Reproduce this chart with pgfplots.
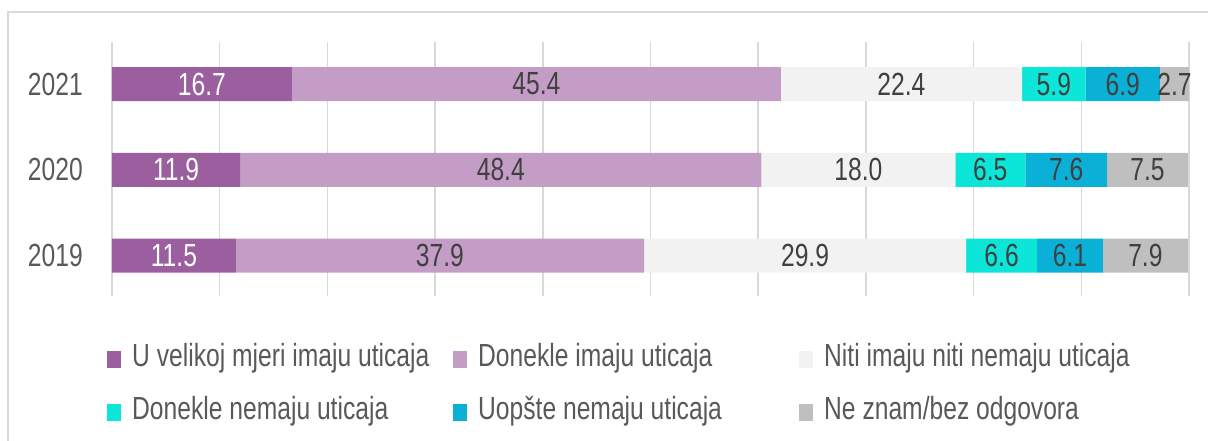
\documentclass[border=0pt]{standalone}
\usepackage{pgfplots}
\pgfplotsset{compat=1.18}
\usepackage{pgfplotstable}
\usepackage{fontspec}
\setmainfont{Liberation Sans}[FakeStretch=0.77]
\definecolor{c1}{HTML}{9B5FA0}
\definecolor{c2}{HTML}{C49DC7}
\definecolor{c3}{HTML}{F2F2F2}
\definecolor{c4}{HTML}{0CE6D8}
\definecolor{c5}{HTML}{0AB0D6}
\definecolor{c6}{HTML}{BFBFBF}
\definecolor{gridc}{HTML}{D9D9D9}
\definecolor{txt}{HTML}{404040}
\definecolor{legtxt}{HTML}{595959}

\pgfplotstableread{
y a b c d e f
0 11.5 37.9 29.9 6.6 6.1 7.9
1 11.9 48.4 18.0 6.5 7.6 7.5
2 16.7 45.4 22.4 5.9 6.9 2.7
}\data

\newcommand{\bigf}{\fontsize{32}{38}\selectfont}

\begin{document}
\bigf
\begin{tikzpicture}
\path[use as bounding box] (0,0) rectangle (1208pt,440pt);
\draw[gridc, line width=1.5pt] (8pt,-20pt) -- (8pt,428pt) -- (1240pt,428pt);
\begin{axis}[
  at={(112pt,144pt)}, anchor=south west,
  scale only axis, width=1077pt, height=254pt,
  xbar stacked, bar width=34pt,
  xmin=0, xmax=100, ymin=-0.47, ymax=2.49,
  xtick={0,10,...,100}, xticklabels={},
  xmajorgrids, grid style={gridc, line width=1.5pt},
  ytick={0,1,2}, yticklabels={2019,2020,2021},
  axis line style={draw=none},
  major tick style={draw=none},
  yticklabel style={inner sep=0pt, xshift=-29pt, text=legtxt, font=\bigf},
  /pgf/number format/fixed, /pgf/number format/fixed zerofill,
  /pgf/number format/precision=1, /pgf/number format/assume math mode=true,
  nodes near coords,
  nodes near coords align={center},
  every node near coord/.append style={anchor=center, text=txt, font=\bigf, inner sep=0pt},
  legend columns=3,
  legend style={at={(axis description cs:-0.00464,-0.183)}, anchor=north west,
    draw=none, fill=none, inner sep=0pt, font=\bigf, text=legtxt,
    nodes={inner sep=0pt, text height=24pt, text depth=8pt},
    row sep=21pt,
    /tikz/every odd column/.append style={column sep=11pt},
    /tikz/every even column/.append style={column sep=21pt}},
  legend image code/.code={\fill[#1,draw=none] (0pt,-9pt) rectangle (14pt,8pt);},
]
\addplot[fill=c1, draw=none, every node near coord/.append style={text=white}] table[x=a,y=y]{\data};
\addplot[fill=c2, draw=none] table[x=b,y=y]{\data};
\addplot[fill=c3, draw=none] table[x=c,y=y]{\data};
\addplot[fill=c4, draw=none] table[x=d,y=y]{\data};
\addplot[fill=c5, draw=none] table[x=e,y=y]{\data};
\addplot[fill=c6, draw=none] table[x=f,y=y]{\data};
\legend{\makebox[300pt][l]{U velikoj mjeri imaju uticaja},
        \makebox[300pt][l]{Donekle imaju uticaja},
        \makebox[300pt][l]{Niti imaju niti nemaju uticaja},
        \makebox[300pt][l]{Donekle nemaju uticaja},
        \makebox[300pt][l]{Uopšte nemaju uticaja},
        \makebox[300pt][l]{Ne znam/bez odgovora}}
\end{axis}
\end{tikzpicture}
\end{document}
